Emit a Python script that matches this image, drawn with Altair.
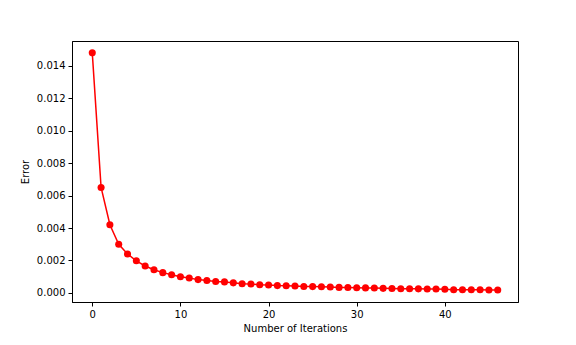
import altair as alt
import pandas as pd

iterations = list(range(47))
errors = [0.0148, 0.0065, 0.0042, 0.0030, 0.0024, 0.00198, 0.00166, 0.00143, 0.00125, 0.00112,
          0.00100, 0.00092, 0.00082, 0.00076, 0.00070, 0.00068, 0.00062, 0.00057, 0.00055, 0.00050,
          0.00049, 0.00045, 0.00044, 0.00043, 0.00040, 0.00039, 0.00038, 0.00037, 0.00034, 0.00033,
          0.00032, 0.00031, 0.00030, 0.00028, 0.00027, 0.00026, 0.00026, 0.00025, 0.00024, 0.00024,
          0.00023, 0.00020, 0.00020, 0.00019, 0.00019, 0.00018, 0.00018]
x_ticks = [0, 10, 20, 30, 40]
y_ticks = [0.000, 0.002, 0.004, 0.006, 0.008, 0.010, 0.012, 0.014]

df = pd.DataFrame({"it": iterations, "err": errors})

x = alt.X("it:Q", title="Number of Iterations",
          scale=alt.Scale(domain=[-2.3, 48.3], nice=False, zero=False),
          axis=alt.Axis(values=x_ticks, format="d", grid=False))
y = alt.Y("err:Q", title="Error",
          scale=alt.Scale(domain=[-0.00056, 0.01553], nice=False, zero=False),
          axis=alt.Axis(values=y_ticks, format=".3f", grid=False))

line = alt.Chart(df).mark_line(color="#ff0000", strokeWidth=1.5).encode(x=x, y=y)
pts = alt.Chart(df).mark_point(filled=True, color="#ff0000", size=50, opacity=1).encode(x=x, y=y)

chart = (line + pts).properties(
    width=446, height=261,
    autosize=alt.AutoSizeParams(type="none"),
    padding={"left": 64, "top": 33, "right": 50, "bottom": 40},
).configure_view(stroke="black", strokeWidth=1).configure_axis(
    domainColor="black", tickColor="black", tickSize=4, labelColor="black",
    labelFont="DejaVu Sans", labelFontSize=10, titleFont="DejaVu Sans",
    titleFontSize=10, titleFontWeight="normal", titleColor="black", labelPadding=3,
).configure_axisX(titlePadding=4).configure_axisY(titlePadding=6)

chart.save("out.html", embed_options={"renderer": "svg", "actions": False})
